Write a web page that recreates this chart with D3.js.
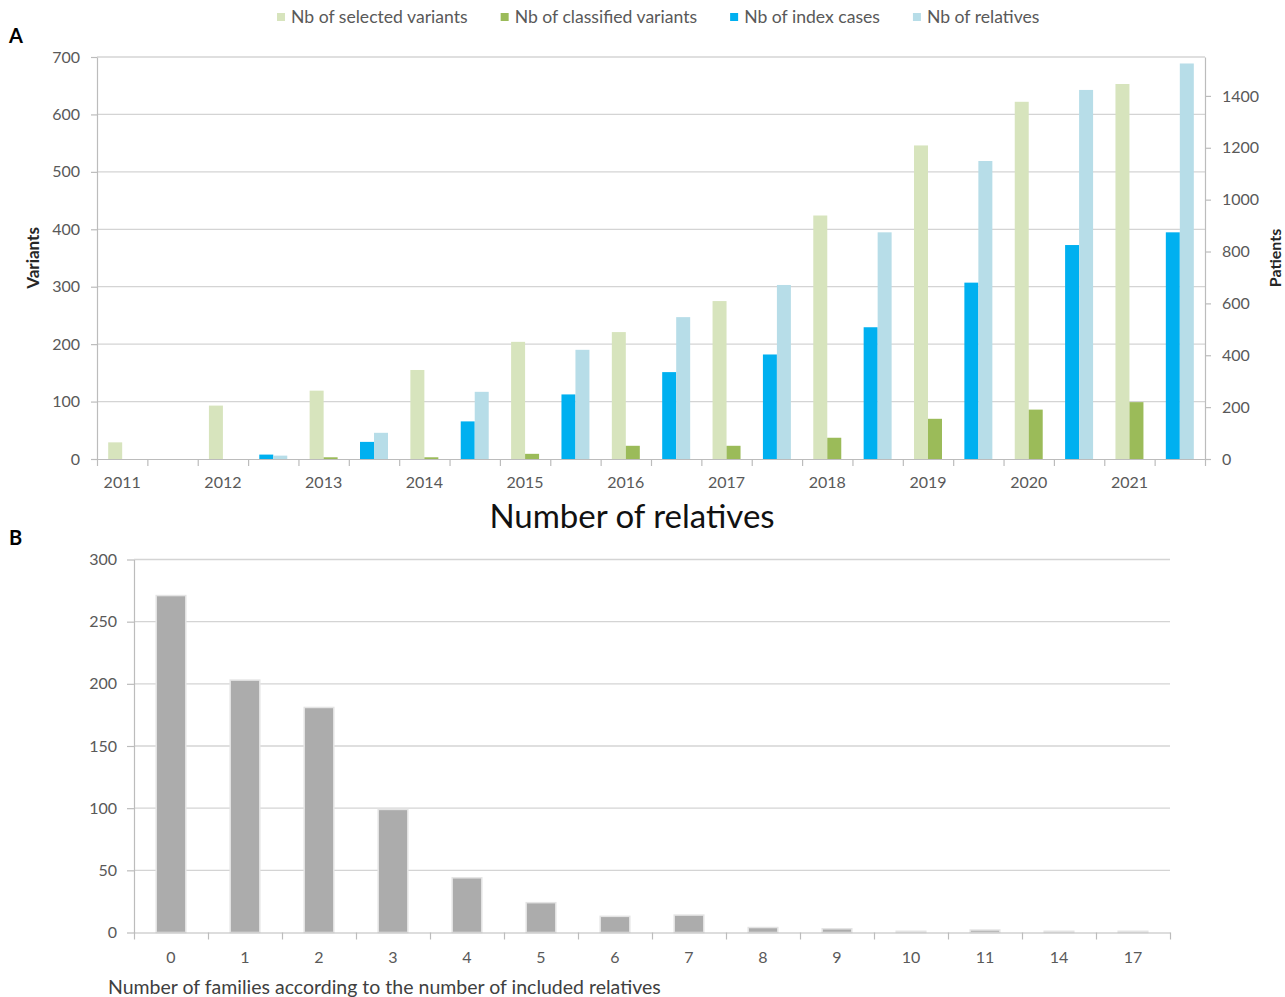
<!DOCTYPE html>
<html>
<head>
<meta charset="utf-8">
<script src="https://cdn.jsdelivr.net/npm/d3@7/dist/d3.min.js"></script>
<style>
  html, body { margin: 0; padding: 0; background: #fff; }
  svg { display: block; }
  text { font-family: Lato, "Liberation Sans", sans-serif; }
</style>
</head>
<body>
<svg id="chart" width="1285" height="997"></svg>
<script>
// Panel A: yearly counts
const years = ["2011", "2012", "2013", "2014", "2015", "2016", "2017", "2018", "2019", "2020", "2021"];
const selectedVariants   = [29, 93, 119, 155, 204, 221, 275, 424, 546, 622, 653];
const classifiedVariants = [0, 0, 3, 3, 9, 23, 23, 37, 70, 86, 99];
const indexCases         = [0, 17, 66, 145, 249, 335, 403, 508, 680, 825, 874];
const relativesCount     = [0, 13, 101, 259, 421, 547, 671, 874, 1149, 1423, 1525];
const variantTicks = [0, 100, 200, 300, 400, 500, 600, 700];
const patientTicks = [0, 200, 400, 600, 800, 1000, 1200, 1400];

// Panel B: families by number of included relatives
const relativeCounts = ["0", "1", "2", "3", "4", "5", "6", "7", "8", "9", "10", "11", "14", "17"];
const families = [271, 203, 181, 99, 44, 24, 13, 14, 4, 3, 1, 2, 1, 1];
const familyTicks = [0, 50, 100, 150, 200, 250, 300];

const seriesNames = ["Nb of selected variants", "Nb of classified variants", "Nb of index cases", "Nb of relatives"];
const seriesColors = ["#d7e4bd", "#9bbb59", "#00b0f0", "#b7dde8"];

const svg = d3.select("#chart");
const gridColor = "#d4d4d4";
const axisColor = "#bcbcbc";
const labelColor = "#595959";

// ---------- Panel A ----------
const A = { left: 97, right: 1205, top: 57, bottom: 459 };
const slots = years.flatMap(y => [y + "|v", y + "|p"]);
const xA = d3.scaleBand().domain(slots).range([A.left, A.right]).padding(0);
const xEdge = d3.scaleLinear().domain([0, slots.length]).range([A.left, A.right]);
const xInner = d3.scaleBand().domain([0, 1]).range([0, xA.bandwidth()]).paddingInner(0).paddingOuter(0.8);
const yLeft = d3.scaleLinear().domain([0, 700]).range([A.bottom, A.top]);
const yRight = d3.scaleLinear().domain([0, 1550]).range([A.bottom, A.top]);

const gA = svg.append("g");

// gridlines
gA.append("g").selectAll("line").data(variantTicks.filter(d => d > 0)).join("line")
  .attr("x1", A.left).attr("x2", A.right)
  .attr("y1", d => yLeft(d)).attr("y2", d => yLeft(d))
  .attr("stroke", gridColor).attr("stroke-width", 1.3);

// bars: variants sit in the first slot of each year, patients in the second
const barsA = [];
years.forEach((y, i) => {
  barsA.push({ slot: y + "|v", k: 0, v: selectedVariants[i], s: yLeft, c: 0 });
  barsA.push({ slot: y + "|v", k: 1, v: classifiedVariants[i], s: yLeft, c: 1 });
  barsA.push({ slot: y + "|p", k: 0, v: indexCases[i], s: yRight, c: 2 });
  barsA.push({ slot: y + "|p", k: 1, v: relativesCount[i], s: yRight, c: 3 });
});
gA.append("g").selectAll("rect").data(barsA.filter(d => d.v > 0)).join("rect")
  .attr("x", d => xA(d.slot) + xInner(d.k))
  .attr("width", xInner.bandwidth())
  .attr("y", d => d.s(d.v))
  .attr("height", d => A.bottom - d.s(d.v))
  .attr("fill", d => seriesColors[d.c]);

function styleAxis(g) {
  g.select(".domain").attr("stroke", axisColor).attr("stroke-width", 1.2);
  g.selectAll(".tick line").attr("stroke", axisColor).attr("stroke-width", 1.2);
  g.selectAll(".tick text").attr("fill", labelColor).style("font-size", "16px").style("font-family", "Lato, sans-serif");
}

// left axis
gA.append("g").attr("transform", `translate(${A.left},0)`)
  .call(d3.axisLeft(yLeft).tickValues(variantTicks).tickSize(6).tickPadding(11).tickSizeOuter(0))
  .call(styleAxis);
// right axis
gA.append("g").attr("transform", `translate(${A.right},0)`)
  .call(d3.axisRight(yRight).tickValues(patientTicks).tickFormat(d3.format("d")).tickSize(6).tickPadding(11).tickSizeOuter(0))
  .call(styleAxis);
// bottom axis: slot boundaries
gA.append("g").attr("transform", `translate(0,${A.bottom})`)
  .call(d3.axisBottom(xEdge).tickValues(d3.range(slots.length + 1)).tickFormat("").tickSize(7).tickSizeOuter(0))
  .call(styleAxis);
// bottom axis: year labels
gA.append("g").attr("transform", `translate(0,${A.bottom})`)
  .call(d3.axisBottom(xA).tickSize(0).tickPadding(18).tickFormat(d => d.endsWith("|v") ? d.split("|")[0] : ""))
  .call(g => g.select(".domain").remove())
  .call(styleAxis);

// axis titles
svg.append("text").attr("transform", "translate(39,258) rotate(-90)")
  .attr("text-anchor", "middle").attr("fill", "#262626")
  .style("font-size", "17px").style("font-weight", "bold").text("Variants");
svg.append("text").attr("transform", "translate(1281,258) rotate(-90)")
  .attr("text-anchor", "middle").attr("fill", "#262626")
  .style("font-size", "16px").style("font-weight", "bold").text("Patients");

svg.append("text").attr("x", 632).attr("y", 528).attr("text-anchor", "middle")
  .attr("fill", "#111").style("font-size", "33px").text("Number of relatives");

// legend
const legend = svg.append("g");
let lx = 277;
seriesNames.forEach((name, i) => {
  legend.append("rect").attr("x", lx).attr("y", 13).attr("width", 8).attr("height", 8).attr("fill", seriesColors[i]);
  const t = legend.append("text").attr("x", lx + 14).attr("y", 23)
    .attr("fill", labelColor).style("font-size", "17.6px").text(name);
  lx = lx + 14 + t.node().getComputedTextLength() + 33;
});

// panel letters
svg.append("text").attr("x", 9).attr("y", 43).style("font-size", "20px").style("font-weight", "bold").attr("fill", "#000").text("A");
svg.append("text").attr("x", 9).attr("y", 545).style("font-size", "20px").style("font-weight", "bold").attr("fill", "#000").text("B");

// ---------- Panel B ----------
const B = { left: 134, right: 1170, top: 559.5, bottom: 932.5 };
const xB = d3.scaleBand().domain(relativeCounts).range([B.left, B.right]).paddingInner(0.6).paddingOuter(0.3);
const xBEdge = d3.scaleLinear().domain([0, relativeCounts.length]).range([B.left, B.right]);
const yB = d3.scaleLinear().domain([0, 300]).range([B.bottom, B.top]);
const gB = svg.append("g");

gB.append("g").selectAll("line").data(familyTicks.filter(d => d > 0)).join("line")
  .attr("x1", B.left).attr("x2", B.right)
  .attr("y1", d => yB(d)).attr("y2", d => yB(d))
  .attr("stroke", gridColor).attr("stroke-width", 1.3);

gB.append("g").selectAll("rect").data(relativeCounts.map((c, i) => ({ c, v: families[i] }))).join("rect")
  .attr("x", d => xB(d.c))
  .attr("width", xB.bandwidth())
  .attr("y", d => yB(d.v))
  .attr("height", d => B.bottom - yB(d.v))
  .attr("fill", "#acacac")
  .attr("stroke", "#e4e4e4").attr("stroke-width", 1.5);

gB.append("g").attr("transform", `translate(${B.left},0)`)
  .call(d3.axisLeft(yB).tickValues(familyTicks).tickSize(7).tickPadding(10).tickSizeOuter(0))
  .call(styleAxis);
gB.append("g").attr("transform", `translate(0,${B.bottom})`)
  .call(d3.axisBottom(xBEdge).tickValues(d3.range(relativeCounts.length + 1)).tickFormat("").tickSize(7).tickSizeOuter(0))
  .call(styleAxis);
gB.append("g").attr("transform", `translate(0,${B.bottom})`)
  .call(d3.axisBottom(xB).tickSize(0).tickPadding(19))
  .call(g => g.select(".domain").remove())
  .call(styleAxis);

svg.append("text").attr("x", 108).attr("y", 994)
  .attr("fill", "#404040").style("font-size", "19.5px")
  .text("Number of families according to the number of included relatives");
</script>
</body>
</html>
